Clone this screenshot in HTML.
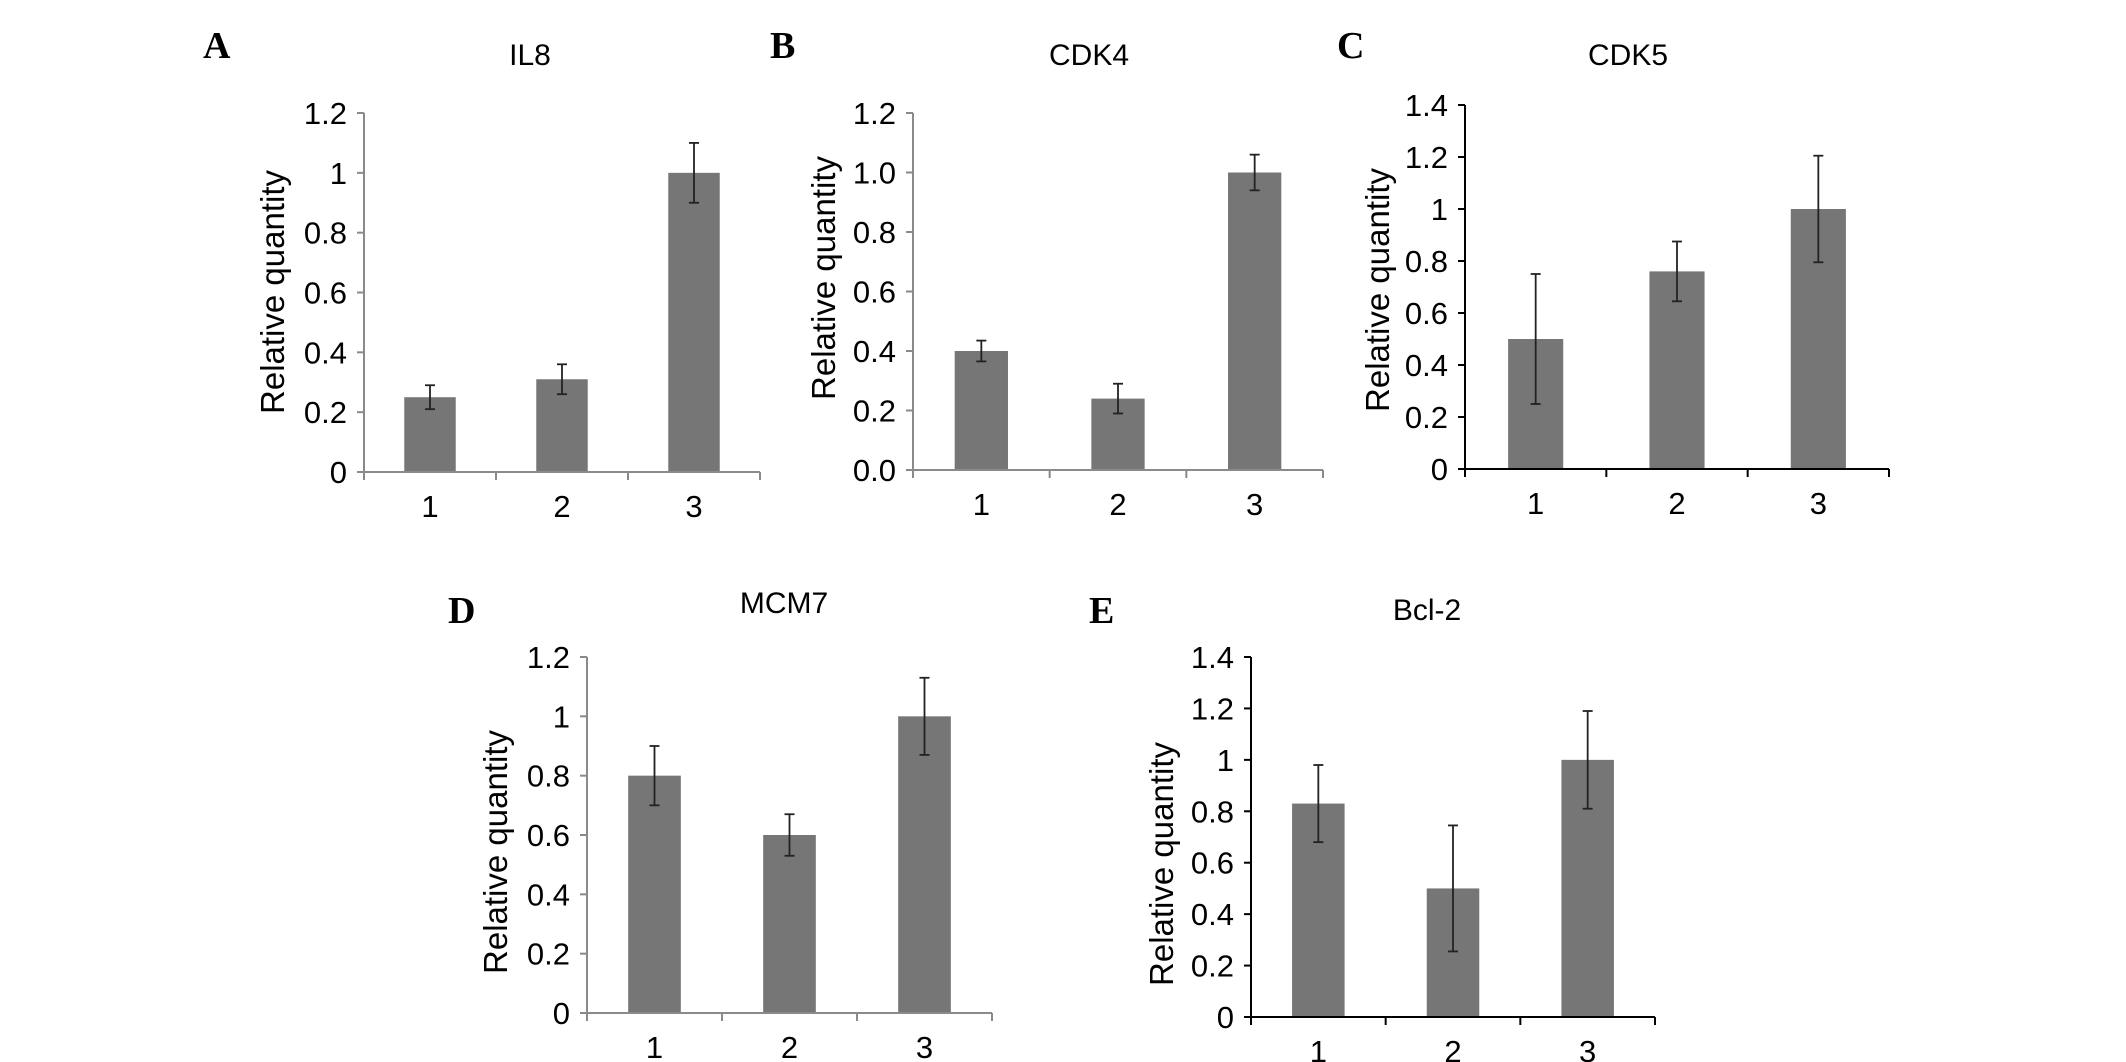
<!DOCTYPE html>
<html><head><meta charset="utf-8"><style>
html,body{margin:0;padding:0;background:#fff;}
svg{display:block;}
text{font-family:"Liberation Sans",Arial,sans-serif;fill:#000;}
.lt{font-family:"Liberation Serif","Times New Roman",serif;font-weight:bold;font-size:38px;}
</style></head><body>
<svg id="fig" width="2126" height="1062" viewBox="0 0 2126 1062" xmlns="http://www.w3.org/2000/svg"></svg>
<script>
const categories = ["1","2","3"];
const il8Values = [0.25, 0.31, 1.0];
const il8Errors = [0.04, 0.05, 0.10];
const cdk4Values = [0.40, 0.24, 1.0];
const cdk4Errors = [0.035, 0.05, 0.06];
const cdk5Values = [0.50, 0.76, 1.0];
const cdk5Errors = [0.25, 0.115, 0.205];
const mcm7Values = [0.80, 0.60, 1.0];
const mcm7Errors = [0.10, 0.07, 0.13];
const bcl2Values = [0.83, 0.50, 1.0];
const bcl2Errors = [0.15, 0.245, 0.19];
const ticks12 = ["0","0.2","0.4","0.6","0.8","1","1.2"];
const ticks12b = ["0.0","0.2","0.4","0.6","0.8","1.0","1.2"];
const ticks14 = ["0","0.2","0.4","0.6","0.8","1","1.2","1.4"];

const NS = "http://www.w3.org/2000/svg";
const svg = document.getElementById("fig");
function mk(tag, attrs, parent, txt){
  const e = document.createElementNS(NS, tag);
  for (const k in attrs) e.setAttribute(k, attrs[k]);
  if (txt !== undefined) e.textContent = txt;
  (parent||svg).appendChild(e);
  return e;
}
const panels = [
  {id:"a", letter:"A", title:"IL8", vals:il8Values, errs:il8Errors, ticks:ticks12, max:1.2,
   ax:364, xend:760, y0:472, ytop:113, lx:203, ly:58, tx:530, ty:65, ytx:272, yty:292, axColor:"#8a8a8a"},
  {id:"b", letter:"B", title:"CDK4", vals:cdk4Values, errs:cdk4Errors, ticks:ticks12b, max:1.2,
   ax:913, xend:1323, y0:470, ytop:113, lx:770, ly:58, tx:1089, ty:65, ytx:823, yty:278, axColor:"#8a8a8a"},
  {id:"c", letter:"C", title:"CDK5", vals:cdk5Values, errs:cdk5Errors, ticks:ticks14, max:1.4,
   ax:1465, xend:1889, y0:469, ytop:105, lx:1337, ly:58, tx:1628, ty:65, ytx:1377, yty:290, axColor:"#000"},
  {id:"d", letter:"D", title:"MCM7", vals:mcm7Values, errs:mcm7Errors, ticks:ticks12, max:1.2,
   ax:587, xend:992, y0:1013, ytop:657, lx:448, ly:623, tx:784, ty:613, ytx:495, yty:852, axColor:"#8a8a8a"},
  {id:"e", letter:"E", title:"Bcl-2", vals:bcl2Values, errs:bcl2Errors, ticks:ticks14, max:1.4,
   ax:1251, xend:1655, y0:1017, ytop:657, lx:1089, ly:623, tx:1427, ty:620, ytx:1161, yty:864, axColor:"#000"}
];
panels.forEach(p => {
  const g = mk("g", {});
  
  
  const yScale = v => p.y0 - (v / p.max) * (p.y0 - p.ytop);
  const band = (p.xend - p.ax) / categories.length;
  const xCenter = i => p.ax + band * (i + 0.5);
  const bw = band * 0.39;

  const lt = mk("text", {x:p.lx, y:p.ly, class:"lt"}, g, p.letter);
  
  
  const tt = mk("text", {x:p.tx, y:p.ty, "text-anchor":"middle", "font-size":30}, g, p.title);
  
  
  const yt = mk("text", {x:0, y:0, "text-anchor":"middle", "font-size":33,
    transform:`translate(${p.ytx + 12},${p.yty}) rotate(-90)`}, g, "Relative quantity");
  
  

  p.vals.forEach((v, i) => {
    const r = mk("rect", {x:xCenter(i) - bw/2, y:yScale(v), width:bw, height:p.y0 - yScale(v), fill:"#767676"}, g);
    
    
  });
  const ya = mk("line", {x1:p.ax, y1:p.ytop, x2:p.ax, y2:p.y0, stroke:p.axColor, "stroke-width":2}, g);
  
  
  const xa = mk("line", {x1:p.ax - 7, y1:p.y0, x2:p.xend, y2:p.y0, stroke:p.axColor, "stroke-width":2}, g);
  
  
  p.ticks.forEach(t => {
    const y = yScale(parseFloat(t));
    mk("line", {x1:p.ax - 7, y1:y, x2:p.ax, y2:y, stroke:p.axColor, "stroke-width":2}, g);
    const tl = mk("text", {x:p.ax - 17, y:y + 11, "text-anchor":"end", "font-size":31}, g, t);
    
    
  });
  for (let i = 0; i <= categories.length; i++) {
    const x = p.ax + band * i;
    mk("line", {x1:x, y1:p.y0, x2:x, y2:p.y0 + 8, stroke:p.axColor, "stroke-width":2}, g);
  }
  categories.forEach((c, i) => {
    const cl = mk("text", {x:xCenter(i), y:p.y0 + 45, "text-anchor":"middle", "font-size":31}, g, c);
    
    
  });
  p.vals.forEach((v, i) => {
    const x = xCenter(i), hi = yScale(v + p.errs[i]), lo = yScale(v - p.errs[i]);
    const eg = mk("g", {stroke:"#222", "stroke-width":1.8}, g);
    
    
    mk("line", {x1:x, y1:hi, x2:x, y2:lo}, eg);
    mk("line", {x1:x - 5, y1:hi, x2:x + 5, y2:hi}, eg);
    mk("line", {x1:x - 5, y1:lo, x2:x + 5, y2:lo}, eg);
  });
});
</script>
</body></html>
